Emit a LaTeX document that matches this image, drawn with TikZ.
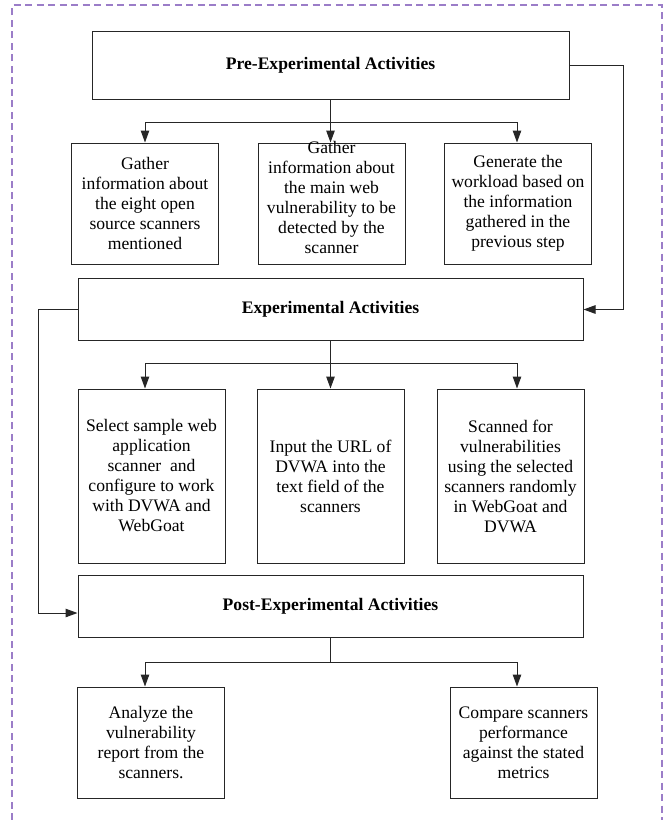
\documentclass[tikz,border=0pt]{standalone}
\usepackage{fontspec}
\setmainfont{Liberation Serif}
\usetikzlibrary{arrows.meta}
\definecolor{framecol}{RGB}{155,125,200}
\begin{document}
\begin{tikzpicture}[x=1pt,y=-1pt,
    actbox/.style={draw=black!85,line width=1pt,minimum width=505pt,minimum height=62pt,inner sep=0pt,font=\fontsize{17.6}{20}\selectfont\bfseries},
    stepbox/.style={draw=black!85,line width=1pt,minimum width=147pt,inner sep=0pt,align=center,font=\fontsize{17.6}{20}\selectfont},
    link/.style={draw=black!85,line width=1pt},
    arr/.style={link,-{Triangle[length=12pt,width=8.5pt]}}]
    \useasboundingbox (0,0) rectangle (667,820);
    %FRAME
    \draw[framecol,line width=1.2pt,dash pattern=on 7pt off 4.5pt] (12,820) -- (12,5) -- (662,5) -- (662,820);

    %NODE
    \node[actbox,minimum width=477pt,minimum height=68pt] (pre) at (330.5,65){Pre-Experimental Activities};
    \node[stepbox,minimum height=121pt] (c1) at (145,203.5){Gather\\information about\\the eight open\\source scanners\\mentioned};
    \node[stepbox,minimum height=121pt] (c2) at (331.5,203.5){\smash{\begin{tabular}{@{}c@{}}Gather\\information about\\the main web\\vulnerability to be\\detected by the\\scanner\end{tabular}}};
    \node[stepbox,minimum height=121pt] (c3) at (518,203.5){Generate the\\workload based on\\the information\\gathered in the\\previous step};

    \node[actbox] (exp) at (330.5,309.5){Experimental Activities};
    \node[stepbox,minimum height=174pt] (d1) at (151.5,476){Select sample web\\application\\scanner\ \ and\\configure to work\\with DVWA and\\WebGoat};
    \node[stepbox,minimum height=174pt] (d2) at (330.5,476){Input the URL of\\DVWA into the\\text field of the\\scanners};
    \node[stepbox,minimum height=174pt] (d3) at (510.5,476){Scanned for\\vulnerabilities\\using the selected\\scanners randomly\\in WebGoat and\\DVWA};

    \node[actbox] (post) at (330.5,606){Post-Experimental Activities};
    \node[stepbox,minimum height=111pt] (e1) at (151,742.5){Analyze the\\vulnerability\\report from the\\scanners.};
    \node[stepbox,minimum height=111pt] (e2) at (523.5,742.5){Compare scanners\\performance\\against the stated\\metrics};

    \coordinate (pb) at (330.5,122);
    \coordinate (eb) at (330.5,363);
    \coordinate (qb) at (330.5,662);

    %EDGE
    \draw[link] (pre) -- (pb);
    \draw[arr] (pb) -| (c1.north);
    \draw[arr] (pb) -- (pb |- c2.north);
    \draw[arr] (pb) -| ([xshift=-1pt]c3.north);
    \draw[arr] (pre.east) -- ++(54,0) |- (exp.east);

    \draw[link] (exp) -- (eb);
    \draw[arr] (eb) -| ([xshift=-6.5pt]d1.north);
    \draw[arr] (eb) -- (eb |- d2.north);
    \draw[arr] (eb) -| ([xshift=6.5pt]d3.north);
    \draw[arr] (exp.west) -- ++(-39,0) |- ([yshift=-7pt]post.west);

    \draw[link] (post) -- (qb);
    \draw[arr] (qb) -| ([xshift=-6pt]e1.north);
    \draw[arr] (qb) -| ([xshift=-6.5pt]e2.north);
\end{tikzpicture}
\end{document}
